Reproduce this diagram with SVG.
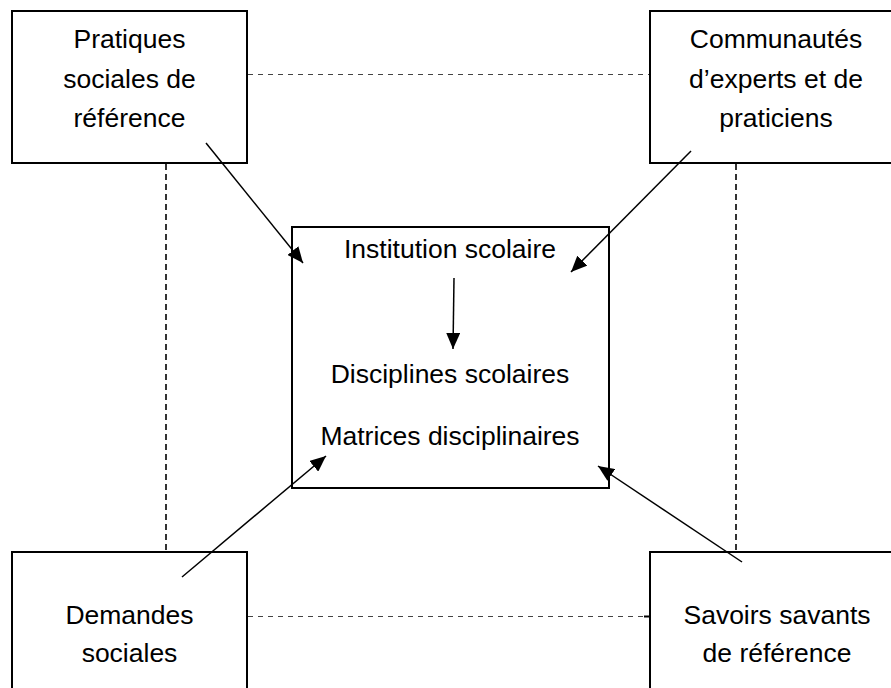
<svg xmlns="http://www.w3.org/2000/svg" width="891" height="688" viewBox="0 0 891 688">
  <defs>
    <marker id="head" markerUnits="userSpaceOnUse" markerWidth="16" markerHeight="14" refX="16" refY="7" orient="auto">
      <path d="M0,0 L16,7 L0,14 Z" fill="#000"/>
    </marker>
    <style>
      .box { fill: #fff; stroke: #000; stroke-width: 2; }
      .label { font-family: "Liberation Sans", Arial, sans-serif; font-size: 26.5px; fill: #000; text-anchor: middle; }
      .dash-h { stroke: #444; stroke-width: 1.2; stroke-dasharray: 5 5; fill: none; }
      .dash-v { stroke: #000; stroke-width: 1.6; stroke-dasharray: 6 4; fill: none; }
      .arrow { stroke: #000; stroke-width: 1.5; fill: none; marker-end: url(#head); }
    </style>
  </defs>

  <rect width="891" height="688" fill="#fff"/>

  <!-- dashed relations between the four outer boxes -->
  <g id="relations">
    <line class="dash-h" x1="248" y1="74.5" x2="650" y2="74.5"/>
    <line class="dash-h" x1="248" y1="616.5" x2="644" y2="616.5"/>
    <line x1="644" y1="616.5" x2="650" y2="616.5" stroke="#000" stroke-width="2"/>
    <line class="dash-v" x1="166" y1="164" x2="166" y2="552"/>
    <line class="dash-v" x1="736" y1="164" x2="736" y2="552"/>
  </g>

  <g id="pratiques">
    <rect class="box" x="12" y="11" width="235" height="152"/>
    <text class="label" x="129.5" y="48">Pratiques</text>
    <text class="label" x="129.5" y="88">sociales de</text>
    <text class="label" x="129.5" y="127">référence</text>
  </g>

  <g id="communautes">
    <rect class="box" x="650" y="11" width="260" height="152"/>
    <text class="label" x="776" y="48">Communautés</text>
    <text class="label" x="776" y="88">d’experts et de</text>
    <text class="label" x="776" y="127">praticiens</text>
  </g>

  <g id="demandes">
    <rect class="box" x="12" y="552" width="235" height="150"/>
    <text class="label" x="129.5" y="624">Demandes</text>
    <text class="label" x="129.5" y="662">sociales</text>
  </g>

  <g id="savoirs">
    <rect class="box" x="650" y="552" width="260" height="150"/>
    <text class="label" x="777" y="624">Savoirs savants</text>
    <text class="label" x="777" y="662">de référence</text>
  </g>

  <g id="institution">
    <rect class="box" x="292" y="227" width="317" height="261"/>
    <text class="label" x="450" y="258">Institution scolaire</text>
    <text class="label" x="450" y="383">Disciplines scolaires</text>
    <text class="label" x="450" y="445">Matrices disciplinaires</text>
  </g>

  <!-- influences pointing into the school institution -->
  <g id="connectors">
    <line class="arrow" x1="206" y1="143" x2="303" y2="263"/>
    <line class="arrow" x1="691" y1="151" x2="571" y2="272"/>
    <line class="arrow" x1="454" y1="278" x2="453" y2="349"/>
    <line class="arrow" x1="182" y1="577" x2="326" y2="456"/>
    <line class="arrow" x1="742" y1="562" x2="598" y2="466"/>
  </g>
</svg>
